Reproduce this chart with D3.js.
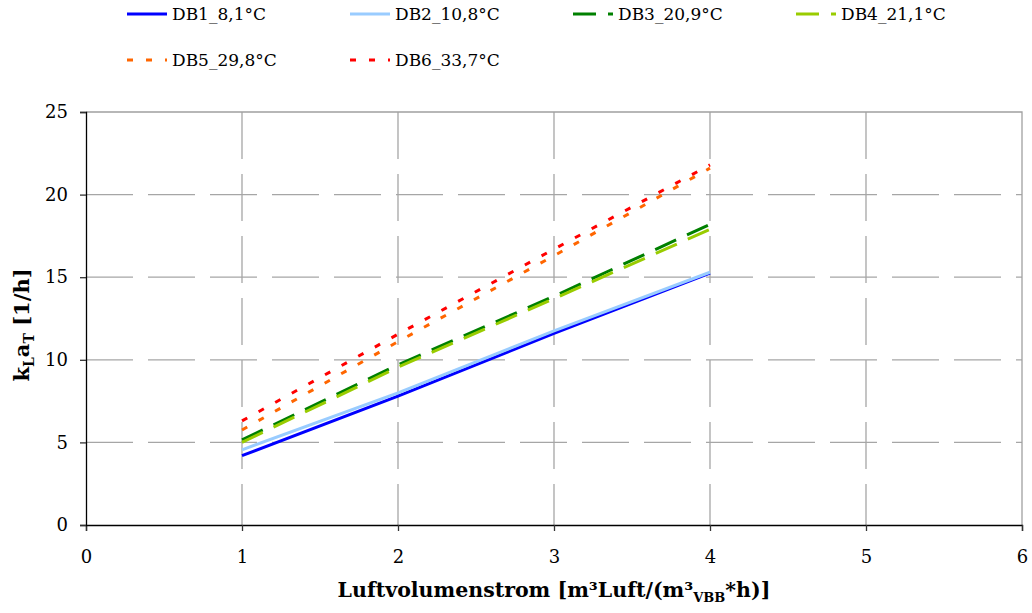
<!DOCTYPE html>
<html>
<head>
<meta charset="utf-8">
<script src="https://cdn.jsdelivr.net/npm/d3@7"></script>
<style>
  body { margin: 0; background: #fff; }
  svg { display: block; }
</style>
</head>
<body>
<svg id="canvas" width="1032" height="613"></svg>
<script>
// series names and values
var seriesNames = ["DB1_8,1°C", "DB2_10,8°C", "DB3_20,9°C", "DB4_21,1°C", "DB5_29,8°C", "DB6_33,7°C"];
var airFlow = [1, 2, 3, 4];
var db1 = [4.2, 7.8, 11.6, 15.25];
var db2 = [4.55, 8.0, 11.75, 15.3];
var db3 = [5.15, 9.7, 13.85, 18.2];
var db4 = [5.0, 9.55, 13.7, 17.9];
var db5 = [5.75, 11.1, 16.3, 21.6];
var db6 = [6.3, 11.55, 16.7, 21.8];
var xTicks = [0, 1, 2, 3, 4, 5, 6];
var yTicks = [0, 5, 10, 15, 20, 25];

var seriesValues = [db1, db2, db3, db4, db5, db6];
var colors = ["#0000ff", "#99ccff", "#008000", "#99cc00", "#ff6600", "#ff0000"];
var dashes = [null, null, "23,12", "23,12", "6,13", "6,13"];

var svg = d3.select("#canvas");
var font = "'DejaVu Serif', serif";

//plot area (no "top" name, it is taken by window.top)
var pLeft = 86, pRight = 1022, pTop = 112, pBottom = 525;

var x = d3.scaleLinear().domain([0, 6]).range([pLeft, pRight]);
var y = d3.scaleLinear().domain([0, 25]).range([pBottom, pTop]);

//grid lines
svg.append("g").selectAll("line.hgrid")
  .data(yTicks.filter(function(d) { return d > 0 && d < 25; }))
  .enter().append("line")
  .attr("x1", pLeft).attr("x2", pRight)
  .attr("y1", function(d) { return y(d); })
  .attr("y2", function(d) { return y(d); })
  .style("stroke", "#a6a6a6")
  .style("stroke-width", 1.3)
  .style("stroke-dasharray", "47,15");

svg.append("g").selectAll("line.vgrid")
  .data(xTicks.filter(function(d) { return d > 0 && d < 6; }))
  .enter().append("line")
  .attr("x1", function(d) { return x(d); })
  .attr("x2", function(d) { return x(d); })
  .attr("y1", pTop).attr("y2", pBottom)
  .style("stroke", "#a6a6a6")
  .style("stroke-width", 1.3)
  .style("stroke-dasharray", "47,15");

//plot border top and right
svg.append("path")
  .attr("d", "M" + pLeft + "," + pTop + "H" + pRight + "V" + pBottom)
  .style("fill", "none")
  .style("stroke", "#a0a0a0")
  .style("stroke-width", 1.3);

//axes
var xAxis = d3.axisBottom(x).tickValues(xTicks).tickFormat(d3.format("d")).tickSize(6).tickPadding(19);
var yAxis = d3.axisLeft(y).tickValues(yTicks).tickFormat(d3.format("d")).tickSize(6).tickPadding(12);

var gx = svg.append("g")
  .attr("transform", "translate(0," + pBottom + ")")
  .call(xAxis);
var gy = svg.append("g")
  .attr("transform", "translate(" + pLeft + ",0)")
  .call(yAxis);

[gx, gy].forEach(function(g) {
  g.select(".domain").style("stroke", "#000").style("stroke-width", 1.3);
  g.selectAll(".tick line").style("stroke", "#333").style("stroke-width", 1.3);
  g.selectAll(".tick text")
    .style("font-family", font)
    .style("font-size", "18px")
    .style("fill", "#000");
});

//series lines
var line = d3.line()
  .x(function(d, i) { return x(airFlow[i]); })
  .y(function(d) { return y(d); });

svg.append("g").selectAll("path.series")
  .data(seriesValues)
  .enter().append("path")
  .attr("class", "series")
  .attr("d", line)
  .style("fill", "none")
  .style("stroke", function(d, i) { return colors[i]; })
  .style("stroke-width", 3)
  .style("stroke-dasharray", function(d, i) { return dashes[i]; });

//legend
var legendX = [127, 350, 573, 796, 127, 350];
var legendY = [14, 14, 14, 14, 60, 60];

var legend = svg.append("g").selectAll("g.legend")
  .data(seriesNames)
  .enter().append("g")
  .attr("transform", function(d, i) { return "translate(" + legendX[i] + "," + legendY[i] + ")"; });

legend.append("line")
  .attr("x1", 0).attr("x2", 40)
  .attr("y1", 0).attr("y2", 0)
  .style("stroke", function(d, i) { return colors[i]; })
  .style("stroke-width", 3)
  .style("stroke-dasharray", function(d, i) { return dashes[i]; });

legend.append("text")
  .attr("x", 45)
  .attr("y", 6)
  .style("font-family", font)
  .style("font-size", "17px")
  .style("fill", "#000")
  .text(function(d) { return d; });

//axis titles
var xTitle = svg.append("text")
  .attr("x", (pLeft + pRight) / 2)
  .attr("y", 597)
  .attr("text-anchor", "middle")
  .style("font-family", font)
  .style("font-size", "20.5px")
  .style("font-weight", "bold")
  .style("fill", "#000");
xTitle.append("tspan").text("Luftvolumenstrom [m³Luft/(m³");
xTitle.append("tspan").attr("dy", 5).style("font-size", "13px").text("VBB");
xTitle.append("tspan").attr("dy", -5).text("*h)]");

var yTitle = svg.append("text")
  .attr("transform", "translate(29,325) rotate(-90)")
  .attr("text-anchor", "middle")
  .style("font-family", font)
  .style("font-size", "21px")
  .style("font-weight", "bold")
  .style("fill", "#000");
yTitle.append("tspan").text("k");
yTitle.append("tspan").attr("dy", 5).style("font-size", "14px").text("L");
yTitle.append("tspan").attr("dy", -5).text("a");
yTitle.append("tspan").attr("dy", 5).style("font-size", "14px").text("T");
yTitle.append("tspan").attr("dy", -5).text(" [1/h]");
</script>
</body>
</html>
